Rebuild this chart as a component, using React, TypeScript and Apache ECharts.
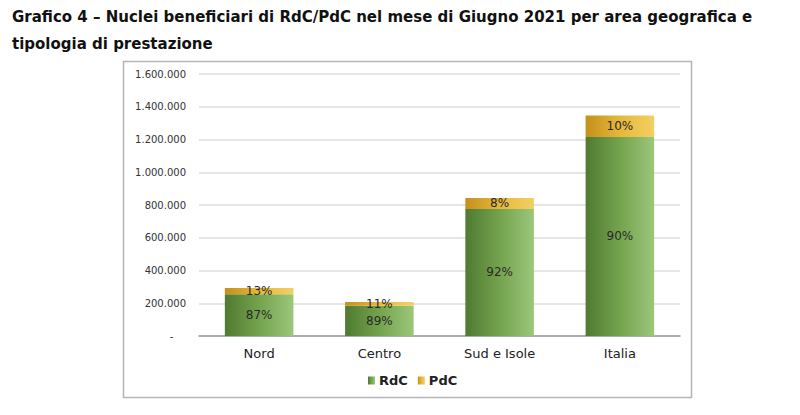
import React, { useEffect, useRef } from "react";
import * as echarts from "echarts";

const categories = ["Nord", "Centro", "Sud e Isole", "Italia"];
const rdcValues = [255000, 185000, 776000, 1216000];
const pdcValues = [38000, 23000, 67000, 130000];
const yTicks = { min: 0, max: 1600000, interval: 200000 };
const titleLine1 = "Grafico 4 – Nuclei beneficiari di RdC/PdC nel mese di Giugno 2021 per area geografica e";
const titleLine2 = "tipologia di prestazione";

const fmt = (v: number) =>
  v === 0 ? "-    " : String(v).replace(/\B(?=(\d{3})+(?!\d))/g, ".");

const pct = (a: number, b: number) => Math.round((a / (a + b)) * 100) + "%";

export default function App() {
  const ref = useRef<HTMLDivElement>(null);
  useEffect(() => {
    if (!ref.current) return;
    const chart = echarts.init(ref.current, undefined, { renderer: "svg" });
    const green = new echarts.graphic.LinearGradient(0, 0, 1, 0, [
      { offset: 0, color: "#4f7a31" },
      { offset: 0.5, color: "#74a34e" },
      { offset: 1, color: "#9bc77a" },
    ]);
    const yellow = new echarts.graphic.LinearGradient(0, 0, 1, 0, [
      { offset: 0, color: "#c3901c" },
      { offset: 0.5, color: "#e6b83a" },
      { offset: 1, color: "#f3d064" },
    ]);
    chart.setOption({
      animation: false,
      textStyle: { fontFamily: "DejaVu Sans" },
      graphic: [
        {
          type: "rect",
          shape: { x: 123.5, y: 61.5, width: 568, height: 336 },
          style: { fill: "none", stroke: "#b5b5b5", lineWidth: 1.5 },
          z: -1,
        },
        {
          type: "text",
          x: 12,
          y: 9,
          style: {
            text: titleLine1,
            font: "bold 15px 'DejaVu Sans'",
            fill: "#111",
          },
        },
        {
          type: "text",
          x: 12,
          y: 36,
          style: {
            text: titleLine2,
            font: "bold 15px 'DejaVu Sans'",
            fill: "#111",
          },
        },
      ],
      grid: { left: 199, right: 120, top: 74, bottom: 79, containLabel: false },
      legend: {
        data: ["RdC", "PdC"],
        top: 369,
        left: 363,
        itemWidth: 7,
        itemHeight: 8,
        itemGap: 10,
        icon: "rect",
        textStyle: { fontWeight: "bold", fontSize: 13, color: "#222", padding: [0, 0, 0, -1] },
      },
      xAxis: {
        type: "category",
        data: categories,
        axisLine: { lineStyle: { color: "#9a9a9a", width: 1.5 } },
        axisTick: { show: false },
        axisLabel: { fontSize: 13, color: "#222", margin: 11 },
      },
      yAxis: {
        type: "value",
        min: yTicks.min,
        max: yTicks.max,
        interval: yTicks.interval,
        axisLine: { show: false },
        axisTick: { show: false },
        axisLabel: { formatter: fmt, fontSize: 10, color: "#333", margin: 13 },
        splitLine: { lineStyle: { color: "#dedede", width: 1.5 } },
      },
      series: [
        {
          name: "RdC",
          type: "bar",
          stack: "tot",
          barWidth: "57%",
          data: rdcValues,
          itemStyle: { color: green },
          label: {
            show: true,
            position: "inside",
            fontSize: 12,
            color: "#2a2a2a",
            formatter: (p: any) => pct(rdcValues[p.dataIndex], pdcValues[p.dataIndex]),
          },
        },
        {
          name: "PdC",
          type: "bar",
          stack: "tot",
          data: pdcValues,
          itemStyle: { color: yellow },
          label: {
            show: true,
            position: "inside",
            fontSize: 12,
            color: "#2a2a2a",
            formatter: (p: any) => pct(pdcValues[p.dataIndex], rdcValues[p.dataIndex]),
          },
        },
      ],
    });
    return () => chart.dispose();
  }, []);
  return <div ref={ref} style={{ width: 800, height: 415, position: "absolute", left: 0, top: 0 }} />;
}
